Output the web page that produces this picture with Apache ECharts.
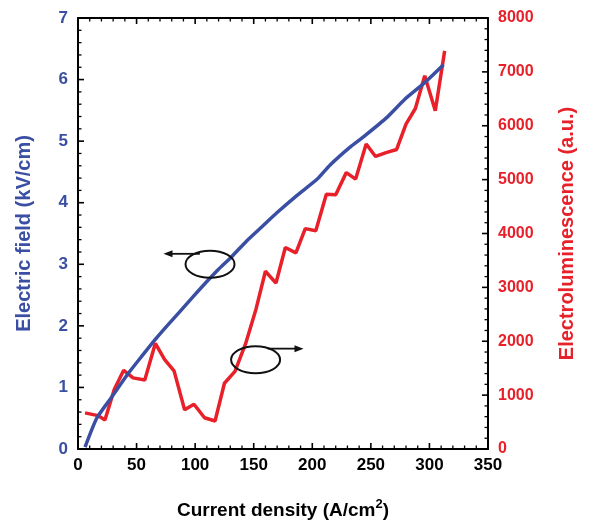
<!DOCTYPE html>
<html><head><meta charset="utf-8">
<script src="https://cdn.jsdelivr.net/npm/echarts@6/dist/echarts.min.js"></script>
<style>html,body{margin:0;padding:0;background:#fff}#c{width:595px;height:526px}</style>
</head><body><div id="c"></div>
<script>
var blueX = [6, 16, 29, 43, 55, 66, 76, 86, 100, 110, 120, 131, 144, 157, 170, 187, 204, 215, 232, 245, 264, 279, 296, 312];
var blueY = [0.03, 0.5, 0.85, 1.23, 1.52, 1.78, 2.0, 2.21, 2.51, 2.72, 2.92, 3.12, 3.38, 3.61, 3.84, 4.12, 4.38, 4.61, 4.9, 5.09, 5.39, 5.68, 5.95, 6.24];
var redX = [6, 17, 23, 31, 39, 47, 57, 66, 74, 82, 91, 99, 108, 117, 125, 134, 143, 152, 160, 169, 177, 186, 194, 203, 212, 220, 229, 237, 246, 254, 263, 272, 280, 288, 296, 305, 313];
var redY = [670, 620, 540, 1110, 1460, 1320, 1280, 1960, 1660, 1450, 730, 830, 580, 520, 1220, 1440, 1950, 2600, 3300, 3080, 3740, 3640, 4090, 4050, 4730, 4720, 5130, 5010, 5660, 5430, 5500, 5560, 6030, 6320, 6930, 6280, 7390];
var xTicks = [0, 50, 100, 150, 200, 250, 300, 350];
var leftTicks = [0, 1, 2, 3, 4, 5, 6, 7];
var rightTicks = [0, 1000, 2000, 3000, 4000, 5000, 6000, 7000, 8000];

var BLUE = '#3a4fa3', RED = '#e8202a', FONT = 'Liberation Sans, Arial, sans-serif';
var W = 595, H = 526, G = {left: 78, right: 107, top: 18, bottom: 77};
var MAJOR = 6, MINOR = 3.5;
function pairs(xs, ys){ return xs.map(function(x,i){ return [x, ys[i]]; }); }
function minorsOf(t){
  var out = [];
  for (var i = 0; i < t.length - 1; i++) {
    var st = (t[i+1] - t[i]) / 5;
    for (var j = 1; j < 5; j++) out.push(t[i] + j * st);
  }
  return out;
}

function ax(extra){
  var o = {
    axisLine: {show: true, onZero: false, lineStyle: {color: '#000', width: 2}},
    axisTick: {show: false},
    minorTick: {show: false},
    splitLine: {show: false}
  };
  for (var k in extra) o[k] = extra[k];
  return o;
}
function plain(v){ return String(v); }

var xMin = xTicks[0], xMax = xTicks[xTicks.length-1], yMin = leftTicks[0], yMax = leftTicks[leftTicks.length-1];

// inward tick marks, placed through the axes' scales (kind: 0 bottom, 1 top, 2 left, 3 right)
var tickRowsL = [], tickRowsR = [];
xTicks.forEach(function(v){ tickRowsL.push([v, yMin, 0, MAJOR], [v, yMax, 1, MAJOR]); });
minorsOf(xTicks).forEach(function(v){ tickRowsL.push([v, yMin, 0, MINOR], [v, yMax, 1, MINOR]); });
leftTicks.forEach(function(v){ tickRowsL.push([xMin, v, 2, MAJOR]); });
minorsOf(leftTicks).forEach(function(v){ tickRowsL.push([xMin, v, 2, MINOR]); });
rightTicks.forEach(function(v){ tickRowsR.push([xMax, v, 3, MAJOR]); });
minorsOf(rightTicks).forEach(function(v){ tickRowsR.push([xMax, v, 3, MINOR]); });

function tickItem(params, api){
  var p = api.coord([api.value(0), api.value(1)]);
  var k = api.value(2), L = api.value(3);
  var dx = k === 2 ? L : (k === 3 ? -L : 0);
  var dy = k === 0 ? -L : (k === 1 ? L : 0);
  return {type: 'line', shape: {x1: p[0], y1: p[1], x2: p[0] + dx, y2: p[1] + dy},
          style: {stroke: '#000', lineWidth: L === MAJOR ? 1.6 : 1.3}};
}

// annotation placement in data units of x / left-y axes, mapped through the grid box
function px(x, y){
  var pw = W - G.left - G.right, ph = H - G.top - G.bottom;
  return [G.left + (x - xMin) / (xMax - xMin) * pw, G.top + (1 - (y - yMin) / (yMax - yMin)) * ph];
}
function ann(cx, cy, x0, x1, ay){
  var c = px(cx, cy), a0 = px(x0, ay), a1 = px(x1, ay);
  var dir = a1[0] > a0[0] ? 1 : -1;
  return [
    {type: 'ellipse', shape: {cx: c[0], cy: c[1], rx: 24.5, ry: 13.5}, style: {fill: 'none', stroke: '#111', lineWidth: 2}, z: 10},
    {type: 'line', shape: {x1: a0[0], y1: a0[1], x2: a1[0] - dir*6, y2: a1[1]}, style: {stroke: '#111', lineWidth: 1.8}, z: 10},
    {type: 'polygon', shape: {points: [[a1[0], a1[1]], [a1[0]-dir*9, a1[1]-3.5], [a1[0]-dir*9, a1[1]+3.5]]}, style: {fill: '#111'}, z: 10}
  ];
}

var chart = echarts.init(document.getElementById('c'));
chart.setOption({
  animation: false,
  grid: G,
  xAxis: [
    ax({type: 'value', min: xMin, max: xMax, interval: xTicks[1]-xTicks[0], position: 'bottom',
      name: '{a|Current density (A/cm}{s|2}{a|)}', nameLocation: 'middle', nameGap: 49,
      nameTextStyle: {rich: {
        a: {fontFamily: FONT, fontWeight: 'bold', fontSize: 19, color: '#000'},
        s: {fontFamily: FONT, fontWeight: 'bold', fontSize: 13, color: '#000', verticalAlign: 'top', padding: [0,0,12,0]}
      }},
      axisLabel: {fontFamily: FONT, fontWeight: 'bold', fontSize: 17, color: '#000', margin: 8, formatter: plain}
    }),
    ax({type: 'value', min: xMin, max: xMax, interval: xTicks[1]-xTicks[0], position: 'top', axisLabel: {show: false}})
  ],
  yAxis: [
    ax({type: 'value', min: yMin, max: yMax, interval: leftTicks[1]-leftTicks[0], position: 'left',
      name: 'Electric field (kV/cm)', nameLocation: 'middle', nameGap: 44, nameRotate: 90,
      nameTextStyle: {fontFamily: FONT, fontWeight: 'bold', fontSize: 20, color: BLUE},
      axisLabel: {fontFamily: FONT, fontWeight: 'bold', fontSize: 17, color: BLUE, margin: 10, formatter: plain}
    }),
    ax({type: 'value', min: rightTicks[0], max: rightTicks[rightTicks.length-1], interval: rightTicks[1]-rightTicks[0], position: 'right',
      name: 'Electroluminescence (a.u.)', nameLocation: 'middle', nameGap: 69, nameRotate: 90,
      nameTextStyle: {fontFamily: FONT, fontWeight: 'bold', fontSize: 20, color: RED},
      axisLabel: {fontFamily: FONT, fontWeight: 'bold', fontSize: 16, color: RED, margin: 10, formatter: plain}
    })
  ],
  series: [
    {type: 'line', xAxisIndex: 0, yAxisIndex: 1, data: pairs(redX, redY), showSymbol: false,
      lineStyle: {color: RED, width: 3.5}},
    {type: 'line', xAxisIndex: 0, yAxisIndex: 0, data: pairs(blueX, blueY), showSymbol: false,
      smooth: 0.2, lineStyle: {color: BLUE, width: 3.5}},
    {type: 'custom', xAxisIndex: 0, yAxisIndex: 0, data: tickRowsL, renderItem: tickItem,
      encode: {x: 0, y: 1}, clip: false, silent: true, z: 5},
    {type: 'custom', xAxisIndex: 0, yAxisIndex: 1, data: tickRowsR, renderItem: tickItem,
      encode: {x: 0, y: 1}, clip: false, silent: true, z: 5}
  ],
  graphic: ann(112.7, 3.0, 104, 73, 3.17).concat(ann(151.6, 1.45, 162, 192.5, 1.63))
});
</script></body></html>
